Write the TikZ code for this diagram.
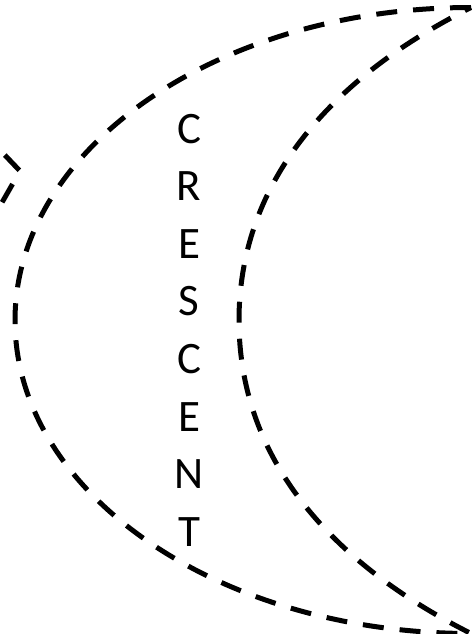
\documentclass[tikz,border=0pt]{standalone}
\usepackage{fontspec}
\setmainfont{Carlito}
\tikzset{
  moonline/.style={line width=5pt,dash pattern=on 21pt off 16pt,line join=miter},
  letter/.style={anchor=base,inner sep=0pt,font=\fontsize{45}{54}\selectfont}
}
\begin{document}
\begin{tikzpicture}[x=1pt,y=-1pt]
  \useasboundingbox (0,0) rectangle (471,634);
  % tips of the crescent
  \coordinate (tiptop) at (471,7.5);
  \coordinate (tipbot) at (471,633.5);
  \coordinate (waist) at (239,320.5);
  % outer half ellipse, then inner curve back up
  \draw[moonline] (tiptop) arc[start angle=270,end angle=90,x radius=456,y radius=313]
    .. controls (321,558) and (239,451) .. (waist)
    .. controls (239,190) and (321,83) .. (tiptop) -- cycle;
  % corner cut off at the left edge
  \coordinate (cornerin) at (0,150);
  \coordinate (corner) at (20,171);
  \coordinate (cornerout) at (0,206);
  \draw[moonline,dash phase=30pt] (cornerin) -- (corner) -- (cornerout);
  % the word, one letter a line
  \foreach \ch [count=\i] in {C,R,E,S,C,E,N,T}
    \node[letter] (l\i) at (189,{143+57.6*(\i-1)}) {\ch};
\end{tikzpicture}
\end{document}
